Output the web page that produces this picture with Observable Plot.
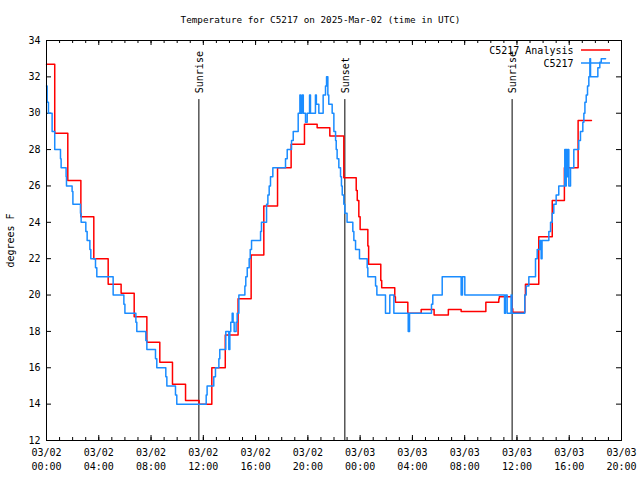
<!DOCTYPE html>
<html><head><meta charset="utf-8">
<script src="https://cdn.jsdelivr.net/npm/d3@7"></script>
<script src="https://cdn.jsdelivr.net/npm/@observablehq/plot@0.6"></script>
<style>body{margin:0;background:#fff}</style>
</head><body><div id="chart"></div>
<script>
const title = "Temperature for C5217 on 2025-Mar-02 (time in UTC)";
const yLabel = "degrees F";
const xTickHours = [0, 4, 8, 12, 16, 20, 24, 28, 32, 36, 40, 44];
const xTickLabels = ["03/02\n00:00", "03/02\n04:00", "03/02\n08:00", "03/02\n12:00", "03/02\n16:00", "03/02\n20:00",
  "03/03\n00:00", "03/03\n04:00", "03/03\n08:00", "03/03\n12:00", "03/03\n16:00", "03/03\n20:00"];
const yTicks = [12, 14, 16, 18, 20, 22, 24, 26, 28, 30, 32, 34];
const seriesNames = ["C5217 Analysis", "C5217"];
const seriesColors = ["#ff0000", "#1a8cff"];

// Analysis (hours since 03/02 00:00 UTC, degrees F)
const analysisHours = [0, 0.63, 1.63, 2.63, 3.62, 4.72, 5.71, 6.71, 7.68, 8.67, 9.64, 10.64, 11.68, 12.65, 13.68, 14.66,
  15.66, 16.63, 17.68, 18.72, 19.74, 20.71, 21.68, 22.75, 23.7, 23.78, 23.9, 24.0, 24.59, 24.65, 25.58, 25.65, 26.65, 26.7,
  27.65, 28.67, 29.66, 30.75, 31.73, 33.62, 34.61, 34.65, 35.63, 35.68, 36.6, 36.65, 37.67, 38.7, 39.63, 40.68, 41.7];
const analysisTemps = [32.7, 28.9, 26.3, 24.3, 22.0, 20.6, 20.1, 18.8, 17.4, 16.3, 15.1, 14.2, 14.0, 16.0, 17.8, 19.8,
  22.2, 24.9, 27.0, 28.3, 29.4, 29.2, 28.75, 26.45, 25.75, 25.2, 24.3, 23.6, 22.7, 21.7, 20.8, 20.4, 19.9, 19.6,
  19.0, 19.2, 18.9, 19.2, 19.1, 19.6, 19.8, 19.9, 19.25, 19.05, 20.0, 20.6, 23.2, 25.2, 27.0, 29.6, 29.6];

// Observations
const obsHours = [0, 0.05, 0.15, 0.43, 0.63, 1.07, 1.12, 1.5, 1.53, 1.96, 2.02, 2.6, 2.65, 3.01, 3.11, 3.32, 3.39, 3.75, 3.85,
  5.1, 5.92, 6.0, 6.84, 6.91, 7.6, 7.68, 8.34, 8.44, 9.13, 9.21, 9.87, 9.97, 12.22, 12.29, 12.8, 12.93, 13.19, 13.26,
  13.72, 13.95, 14.03, 14.1, 14.21, 14.28, 14.36, 14.51, 14.59, 14.72, 15.18, 15.25, 15.36, 15.51, 15.59, 15.69, 16.38,
  16.45, 16.84, 16.94, 17.04, 17.14, 17.32, 18.29, 18.42, 18.75, 18.88, 19.26, 19.39, 19.45, 19.56, 19.65, 19.82, 19.95,
  20.13, 20.2, 20.58, 20.65, 20.84, 21.17, 21.35, 21.43, 21.53, 21.6, 21.86, 21.99, 22.12, 22.17, 22.24, 22.37, 22.5,
  22.57, 22.63, 22.75, 22.83, 23.0, 23.44, 23.52, 23.65, 23.95, 24.54, 24.59, 25.18, 25.28, 25.94, 26.27, 26.58, 27.68,
  27.78, 29.46, 29.56, 30.28, 31.73, 31.83, 32.01, 35.05, 35.12, 35.25, 35.55, 35.62, 36.6, 36.71, 36.91, 37.42, 37.55,
  37.75, 37.85, 37.92, 38.44, 38.57, 38.7, 38.82, 39.0, 39.2, 39.66, 39.72, 39.77, 39.84, 39.9, 39.97, 40.1, 40.35, 40.73,
  40.86, 41.04, 41.12, 41.2, 41.3, 41.4, 41.5, 41.58, 41.63, 42.19, 42.34, 42.45, 42.78];
const obsTemps = [31.5, 30.6, 30.0, 29.0, 28.0, 27.5, 27.0, 26.5, 26.0, 25.7, 25.0, 24.5, 24.0, 23.5, 23.0, 22.5, 22.0, 21.5, 21.0,
  20.0, 19.5, 19.0, 18.5, 18.0, 17.5, 17.0, 16.5, 16.0, 15.5, 15.0, 14.5, 14.0, 14.5, 15.0, 15.5, 16.0, 16.5, 17.0,
  18.0, 17.0, 18.0, 18.5, 19.0, 18.5, 18.0, 18.5, 19.0, 20.0, 20.5, 21.0, 21.5, 22.0, 22.5, 23.0, 23.5,
  24.0, 25.0, 25.5, 26.0, 26.5, 27.0, 27.5, 28.0, 28.5, 29.0, 30.0, 31.0, 30.0, 31.0, 30.0, 29.5, 30.0,
  31.0, 30.0, 31.0, 30.5, 30.0, 31.0, 31.5, 32.0, 31.0, 30.5, 30.0, 29.0, 28.5, 28.0, 27.5, 27.0, 26.5,
  26.0, 25.5, 25.0, 24.5, 24.0, 23.5, 23.0, 22.5, 22.0, 21.5, 21.0, 20.5, 20.0, 19.0, 20.0, 19.0, 18.0,
  19.0, 19.5, 20.0, 21.0, 20.0, 21.0, 20.0, 19.0, 20.0, 19.0, 20.0, 19.0, 20.0, 20.5, 21.0, 22.0, 22.5,
  23.0, 22.0, 23.0, 23.5, 24.0, 24.5, 25.0, 25.5, 26.0, 28.0, 26.0, 28.0, 26.5, 28.0, 26.0, 27.0, 28.0, 28.5,
  29.0, 29.5, 30.0, 30.6, 31.0, 31.5, 32.0, 33.0, 32.0, 32.5, 32.8, 33.0, 33.0];

const eventHours = [11.66, 22.83, 35.63];
const eventNames = ["Sunrise", "Sunset", "Sunrise"];

const analysis = analysisHours.map((h, i) => ({h, t: analysisTemps[i]}));
const obs = obsHours.map((h, i) => ({h, t: obsTemps[i]}));
const events = eventHours.map((h, i) => ({h, name: eventNames[i]}));
const minorHours = d3.range(0, 45, 1);
const lineTop = 30.75, labelBase = 31.1;

const chart = Plot.plot({
  width: 640, height: 480,
  marginLeft: 46, marginRight: 19, marginTop: 40, marginBottom: 40,
  style: {fontFamily: "DejaVu Sans Mono", fontSize: "10px", background: "#fff", color: "#000"},
  x: {type: "linear", domain: [0, 44]},
  y: {type: "linear", domain: [12, 34]},
  marks: [
    Plot.axisY({ticks: yTicks, tickSize: 0, tickPadding: 6, label: null}),
    Plot.axisX({ticks: xTickHours, tickFormat: d => xTickLabels[xTickHours.indexOf(d)], tickSize: 0, tickPadding: 6, label: null, lineHeight: 1.4}),
    Plot.tickX(minorHours, {x: d => d, insetTop: 397, stroke: "#000"}),
    Plot.tickX(minorHours, {x: d => d, insetBottom: 397, stroke: "#000"}),
    Plot.tickX(xTickHours, {x: d => d, insetTop: 395, stroke: "#000"}),
    Plot.tickX(xTickHours, {x: d => d, insetBottom: 395, stroke: "#000"}),
    Plot.tickY(yTicks, {y: d => d, insetRight: 570, stroke: "#000"}),
    Plot.tickY(yTicks, {y: d => d, insetLeft: 570, stroke: "#000"}),
    Plot.ruleX(events, {x: "h", y1: 12, y2: lineTop, stroke: "#000", strokeWidth: 1}),
    Plot.text(events, {x: "h", y: labelBase, text: "name", rotate: -90, textAnchor: "start", lineAnchor: "middle", dx: 1, fill: "#000"}),
    Plot.line(analysis, {x: "h", y: "t", curve: "step-after", stroke: seriesColors[0], strokeWidth: 1.5}),
    Plot.line(obs, {x: "h", y: "t", curve: "step-after", stroke: seriesColors[1], strokeWidth: 1.5}),
    Plot.text([seriesNames[0]], {frameAnchor: "top-right", dx: -48, dy: 10, textAnchor: "end", lineAnchor: "middle", fill: "#000"}),
    Plot.text([seriesNames[1]], {frameAnchor: "top-right", dx: -48, dy: 23, textAnchor: "end", lineAnchor: "middle", fill: "#000"}),
    Plot.ruleY([34], {dy: 9.5, insetLeft: 535, insetRight: 11, stroke: seriesColors[0], strokeWidth: 1.5}),
    Plot.ruleY([34], {dy: 22.5, insetLeft: 535, insetRight: 11, stroke: seriesColors[1], strokeWidth: 1.5}),
    Plot.text([title], {frameAnchor: "top", dy: -20, dx: -13.5, textAnchor: "middle", lineAnchor: "middle", fontSize: 9.3, fill: "#000"}),
    Plot.text([yLabel], {frameAnchor: "left", dx: -36, rotate: -90, textAnchor: "middle", lineAnchor: "middle", fill: "#000"}),
    Plot.frame({stroke: "#000"})
  ]
});
document.getElementById("chart").appendChild(chart);
</script>
</body></html>
